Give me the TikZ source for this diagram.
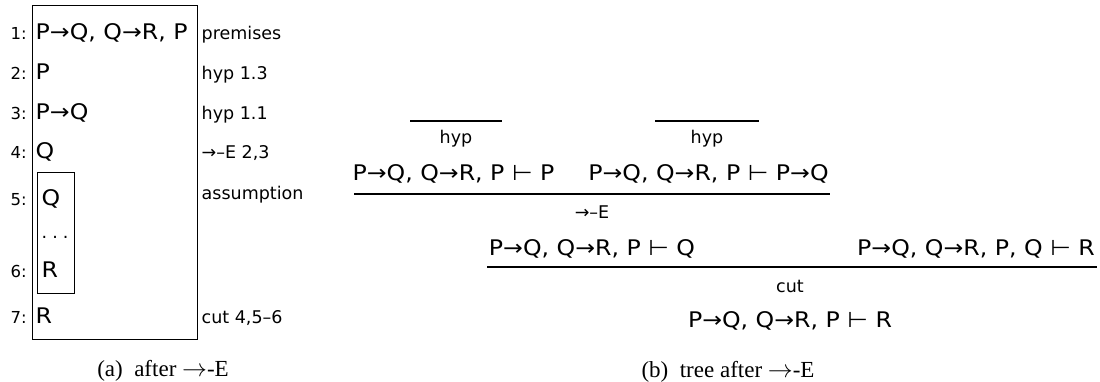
\documentclass[tikz,border=0pt]{standalone}
\usepackage{fontspec}
\setmainfont{Liberation Serif}
\newfontfamily\seqfont[FakeStretch=1.1]{DejaVu Sans}
\newfontfamily\lblfont{DejaVu Sans}
\newcommand\imp{→}
\newcommand\tstile{⊢}
\tikzset{
  seq/.style={inner sep=0pt, font=\seqfont\fontsize{21.5}{26}\selectfont},
  lbl/.style={inner sep=0pt, font=\lblfont\fontsize{17.5}{21}\selectfont},
  num/.style={inner sep=0pt, font=\lblfont\fontsize{16.5}{20}\selectfont},
  capt/.style={inner sep=0pt, font=\fontsize{23}{27}\selectfont},
  frame/.style={line width=1pt},
  rulebar/.style={line width=1.3pt},
}
\begin{document}
\begin{tikzpicture}[x=1pt,y=-1pt]
\useasboundingbox (0,0) rectangle (1100,381);
% ---------- (a) box proof ----------
\coordinate (ob1) at (32,5);   \coordinate (ob2) at (197,339);
\coordinate (ib1) at (37,172); \coordinate (ib2) at (74,293);
\draw[frame] (ob1) rectangle (ob2);
\draw[frame] (ib1) rectangle (ib2);
% line numbers
\node[num, anchor=base east] (n1) at (27,39.5) {1:};
\node[num, anchor=base east] (n2) at (27,79) {2:};
\node[num, anchor=base east] (n3) at (27,119) {3:};
\node[num, anchor=base east] (n4) at (27,158.5) {4:};
\node[num, anchor=base east] (n5) at (27,205) {5:};
\node[num, anchor=base east] (n6) at (27,277) {6:};
\node[num, anchor=base east] (n7) at (27,323) {7:};
% formulas
\node[seq, anchor=base west] (f1) at (35.5,39.5) {P\imp Q, Q\imp R, P};
\node[seq, anchor=base west] (f2) at (35.5,79) {P};
\node[seq, anchor=base west] (f3) at (35.5,119) {P\imp Q};
\node[seq, anchor=base west] (f4) at (35.5,158.5) {Q};
\node[seq, anchor=base west] (f5) at (41.5,205) {Q};
\node[lbl, anchor=base west] (dots) at (41.5,238) {.\hspace{5pt}.\hspace{5pt}.};
\node[seq, anchor=base west] (f6) at (41.5,277) {R};
\node[seq, anchor=base west] (f7) at (35.5,323) {R};
% justifications
\node[lbl, anchor=base west] (j1) at (201.5,39.5) {premises};
\node[lbl, anchor=base west] (j2) at (201.5,79) {hyp 1.3};
\node[lbl, anchor=base west] (j3) at (201.5,119) {hyp 1.1};
\node[lbl, anchor=base west] (j4) at (201.5,158.5) {\imp–E 2,3};
\node[lbl, anchor=base west] (j5) at (201.5,199) {assumption};
\node[lbl, anchor=base west] (j7) at (201.5,323) {cut 4,5–6};
\node[capt, anchor=base] (capa) at (163,376.5) {(a)\enspace after $\rightarrow$-E};
% ---------- (b) tree ----------
\coordinate (h1l) at (410,121); \coordinate (h1r) at (502,121);
\coordinate (h2l) at (655,121); \coordinate (h2r) at (759,121);
\draw[rulebar] (h1l) -- (h1r);
\draw[rulebar] (h2l) -- (h2r);
\node[lbl, anchor=base] (hyp1) at (456,143) {hyp};
\node[lbl, anchor=base] (hyp2) at (707,143) {hyp};
\node[seq, anchor=base] (sA) at (453.5,180) {P\imp Q, Q\imp R, P \tstile{} P};
\node[seq, anchor=base] (sB) at (708.5,180) {P\imp Q, Q\imp R, P \tstile{} P\imp Q};
\coordinate (b1l) at (354,194); \coordinate (b1r) at (830,194);
\draw[rulebar] (b1l) -- (b1r);
\node[lbl, anchor=base] (rE) at (592,218) {\imp–E};
\node[seq, anchor=base] (sC) at (592,255.5) {P\imp Q, Q\imp R, P \tstile{} Q};
\node[seq, anchor=base] (sD) at (976,255.5) {P\imp Q, Q\imp R, P, Q \tstile{} R};
\coordinate (b2l) at (487,267); \coordinate (b2r) at (1097,267);
\draw[rulebar] (b2l) -- (b2r);
\node[lbl, anchor=base] (rcut) at (790,292) {cut};
\node[seq, anchor=base] (sE) at (790,327.5) {P\imp Q, Q\imp R, P \tstile{} R};
\node[capt, anchor=base] (capb) at (728,377) {(b)\enspace tree after $\rightarrow$-E};
\end{tikzpicture}
\end{document}
